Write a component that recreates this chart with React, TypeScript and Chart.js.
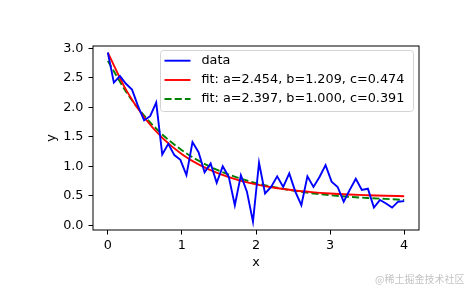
import React, { useEffect, useRef } from "react";
import { Chart, registerables } from "chart.js";

Chart.register(...registerables);

const xData = [
  0, 0.0816, 0.1633, 0.2449, 0.3265, 0.4082, 0.4898, 0.5714, 0.6531, 0.7347,
  0.8163, 0.898, 0.9796, 1.0612, 1.1429, 1.2245, 1.3061, 1.3878, 1.4694, 1.551,
  1.6327, 1.7143, 1.7959, 1.8776, 1.9592, 2.0408, 2.1224, 2.2041, 2.2857, 2.3673,
  2.449, 2.5306, 2.6122, 2.6939, 2.7755, 2.8571, 2.9388, 3.0204, 3.102, 3.1837,
  3.2653, 3.3469, 3.4286, 3.5102, 3.5918, 3.6735, 3.7551, 3.8367, 3.9184, 4.0,
];
const yData = [
  2.93, 2.42, 2.53, 2.4, 2.3, 2.02, 1.78, 1.85, 2.08, 1.2,
  1.38, 1.19, 1.11, 0.85, 1.41, 1.24, 0.9, 1.05, 0.72, 1.0,
  0.82, 0.34, 0.85, 0.57, 0.06, 1.06, 0.54, 0.65, 0.83, 0.65,
  0.88, 0.57, 0.34, 0.83, 0.65, 0.82, 1.02, 0.74, 0.65, 0.4,
  0.6, 0.79, 0.6, 0.62, 0.3, 0.43, 0.37, 0.3, 0.4, 0.41,
];
const xFit = [0, 0.25, 0.5, 0.75, 1, 1.25, 1.5, 1.75, 2, 2.25, 2.5, 2.75, 3, 3.25, 3.5, 3.75, 4];
const yFit1 = [2.928, 2.288, 1.815, 1.465, 1.206, 1.015, 0.874, 0.77, 0.693, 0.636, 0.593, 0.562, 0.539, 0.522, 0.51, 0.5, 0.493];
const yFit2 = [2.788, 2.258, 1.845, 1.523, 1.273, 1.078, 0.926, 0.808, 0.715, 0.644, 0.588, 0.544, 0.51, 0.484, 0.463, 0.447, 0.43];
const legendLabels = ["data", "fit: a=2.454, b=1.209, c=0.474", "fit: a=2.397, b=1.000, c=0.391"];
const xTicks = [0, 1, 2, 3, 4];
const yTicks = [0, 0.5, 1.0, 1.5, 2.0, 2.5, 3.0];

const FONT = "DejaVu Sans";
const FS = 12.8;
const LW = 1.9;
const DASH = [7.1, 3.1];

const colors = ["#0000ff", "#ff0000", "#008000"];

const customPlugin = {
  id: "mplStyle",
  afterDatasetsDraw(chart: any) {
    const { ctx, chartArea } = chart;
    const { left, right, top, bottom } = chartArea;
    ctx.save();
    // spines
    ctx.strokeStyle = "#000";
    ctx.lineWidth = 1;
    ctx.strokeRect(left, top, right - left, bottom - top);

    // legend
    const bx = 160.5, by = 50.5, bw = 253, bh = 61, r = 3;
    ctx.beginPath();
    ctx.moveTo(bx + r, by);
    ctx.lineTo(bx + bw - r, by);
    ctx.quadraticCurveTo(bx + bw, by, bx + bw, by + r);
    ctx.lineTo(bx + bw, by + bh - r);
    ctx.quadraticCurveTo(bx + bw, by + bh, bx + bw - r, by + bh);
    ctx.lineTo(bx + r, by + bh);
    ctx.quadraticCurveTo(bx, by + bh, bx, by + bh - r);
    ctx.lineTo(bx, by + r);
    ctx.quadraticCurveTo(bx, by, bx + r, by);
    ctx.closePath();
    ctx.fillStyle = "rgba(255,255,255,0.8)";
    ctx.fill();
    ctx.strokeStyle = "#d3d3d3";
    ctx.lineWidth = 1;
    ctx.stroke();

    const rows = [60.7, 80, 99];
    ctx.font = `${FS}px "${FONT}"`;
    ctx.textBaseline = "middle";
    ctx.textAlign = "left";
    rows.forEach((ry, i) => {
      ctx.beginPath();
      ctx.strokeStyle = colors[i];
      ctx.lineWidth = LW;
      ctx.setLineDash(i === 2 ? DASH : []);
      ctx.moveTo(164.5, ry);
      ctx.lineTo(190.5, ry);
      ctx.stroke();
      ctx.setLineDash([]);
      ctx.fillStyle = "#000";
      ctx.fillText(legendLabels[i], 201.5, ry);
    });

    // axis titles
    ctx.fillStyle = "#000";
    ctx.textAlign = "center";
    ctx.textBaseline = "middle";
    ctx.fillText("x", (left + right) / 2, 263);
    ctx.translate(52, (top + bottom) / 2);
    ctx.rotate(-Math.PI / 2);
    ctx.fillText("y", 0, 0);
    ctx.restore();
  },
};

export default function App() {
  const ref = useRef<HTMLCanvasElement | null>(null);
  useEffect(() => {
    if (!ref.current) return;
    const chart = new Chart(ref.current, {
      type: "line",
      data: {
        datasets: [
          {
            label: legendLabels[0],
            data: xData.map((x, i) => ({ x, y: yData[i] })),
            borderColor: colors[0],
            borderWidth: LW,
            pointRadius: 0,
            tension: 0,
          },
          {
            label: legendLabels[1],
            data: xFit.map((x, i) => ({ x, y: yFit1[i] })),
            borderColor: colors[1],
            borderWidth: LW,
            pointRadius: 0,
            cubicInterpolationMode: "monotone",
          },
          {
            label: legendLabels[2],
            data: xFit.map((x, i) => ({ x, y: yFit2[i] })),
            borderColor: colors[2],
            borderWidth: LW,
            borderDash: DASH,
            pointRadius: 0,
            cubicInterpolationMode: "monotone",
          },
        ],
      },
      options: {
        animation: false,
        responsive: false,
        devicePixelRatio: 1,
        layout: { padding: { top: 46, right: 46, left: 0, bottom: 0 } },
        plugins: { legend: { display: false }, tooltip: { enabled: false } },
        scales: {
          x: {
            type: "linear",
            min: -0.2,
            max: 4.2,
            afterBuildTicks: (s: any) => {
              s.ticks = xTicks.map((v) => ({ value: v }));
            },
            afterFit: (s: any) => {
              s.height = 58;
            },
            border: { display: false },
            grid: { drawOnChartArea: false, drawTicks: true, tickLength: 4.5, color: "#000", lineWidth: 1 },
            ticks: {
              padding: 3,
              color: "#000",
              font: { family: FONT, size: FS },
              maxRotation: 0,
              callback: (v: any) => String(v),
            },
          },
          y: {
            type: "linear",
            min: -0.08,
            max: 3.04,
            afterBuildTicks: (s: any) => {
              s.ticks = yTicks.map((v) => ({ value: v }));
            },
            afterFit: (s: any) => {
              s.width = 93;
            },
            border: { display: false },
            grid: { drawOnChartArea: false, drawTicks: true, tickLength: 4.5, color: "#000", lineWidth: 1 },
            ticks: {
              padding: 5,
              color: "#000",
              font: { family: FONT, size: FS },
              callback: (v: any) => Number(v).toFixed(1),
            },
          },
        },
      },
      plugins: [customPlugin],
    });
    return () => chart.destroy();
  }, []);
  return (
    <div style={{ position: "absolute", left: 0, top: 0, width: 465, height: 288, background: "#fff" }}>
      <canvas ref={ref} width={465} height={288} style={{ width: 465, height: 288, display: "block" }} />
      <span
        style={{
          position: "absolute",
          left: 375,
          top: 272,
          fontSize: 10,
          lineHeight: "14px",
          color: "#c4c4c4",
          fontFamily: '"Noto Sans CJK SC", sans-serif',
          whiteSpace: "nowrap",
        }}
      >
        @稀土掘金技术社区
      </span>
    </div>
  );
}
